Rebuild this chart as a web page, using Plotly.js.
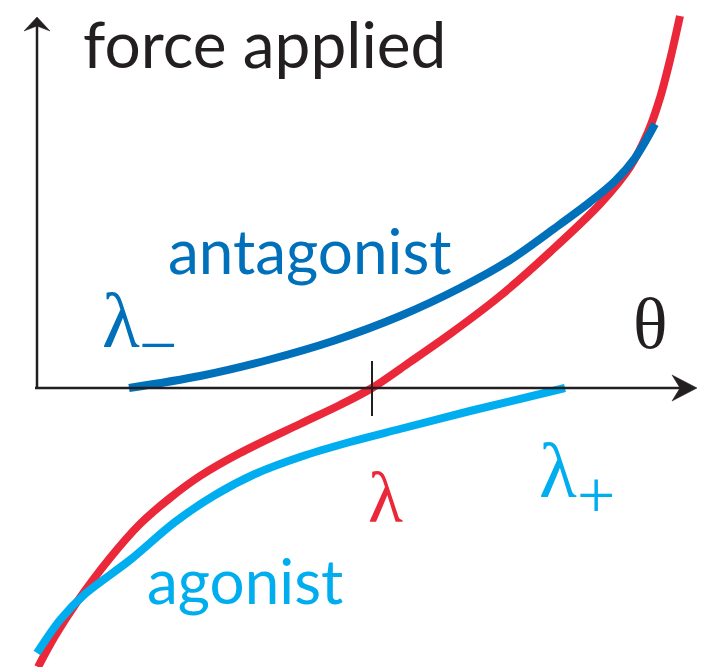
<!DOCTYPE html>
<html>
<head>
<meta charset="utf-8">
<script src="https://cdn.plot.ly/plotly-3.0.1.min.js"></script>
<style>
  html, body { margin: 0; padding: 0; background: #ffffff; }
  #chart { width: 710px; height: 667px; }
</style>
</head>
<body>
<div id="chart"></div>
<script>
// Joint angle (theta) and force for a muscle pair around the rest length lambda.
const lambdaMinus = 0.92;   // antagonist threshold
const lambdaRest = 3.35;    // equilibrium, net force zero
const lambdaPlus = 5.28;    // agonist threshold

// net force applied
const netTheta = [0.01, 0.18, 0.40, 0.73, 1.03, 1.33, 1.63, 2.03, 2.63, 3.03, 3.35, 3.73, 4.13, 4.63, 5.13, 5.63, 5.93, 6.11, 6.23, 6.33, 6.43];
const netForce = [-2.79, -2.48, -2.14, -1.70, -1.36, -1.10, -0.88, -0.65, -0.36, -0.17, 0.00, 0.26, 0.54, 0.92, 1.36, 1.84, 2.21, 2.56, 2.90, 3.28, 3.72];

// antagonist
const antTheta = [0.92, 1.63, 2.31, 2.96, 3.63, 4.23, 4.73, 5.18, 5.53, 5.78, 5.98, 6.18];
const antForce = [0.00, 0.12, 0.28, 0.47, 0.72, 1.00, 1.28, 1.60, 1.86, 2.07, 2.30, 2.64];

// agonist
const agoTheta = [0.00, 0.23, 0.48, 0.93, 1.38, 1.78, 2.18, 2.63, 3.13, 3.63, 4.33, 5.28];
const agoForce = [-2.65, -2.32, -2.06, -1.72, -1.34, -1.07, -0.86, -0.69, -0.54, -0.41, -0.23, 0.00];

// ends of the drawn axes
const thetaAxisEnd = 6.60;
const forceAxisEnd = 3.71;

const RED = '#EA2839';
const DARK_BLUE = '#0070BA';
const LIGHT_BLUE = '#00AEEF';
const INK = '#231F20';

const SANS = 'Lato, "Open Sans", sans-serif';
const SERIF = '"Liberation Serif", "DejaVu Serif", serif';

function curve(x, y, color) {
  return { x: x, y: y, mode: 'lines', hoverinfo: 'skip',
           line: { color: color, width: 8, shape: 'spline', smoothing: 0.9 } };
}

const traces = [
  curve(netTheta, netForce, RED),
  curve(antTheta, antForce, DARK_BLUE),
  curve(agoTheta, agoForce, LIGHT_BLUE)
];

function label(text, x, y, color, size, family, xanchor) {
  return { text: text, x: x, y: y, xref: 'x', yref: 'y', showarrow: false,
           xanchor: xanchor || 'left', yanchor: 'middle',
           font: { color: color, size: size, family: family } };
}

// barbed arrowhead drawn in pixels around the axis end
function arrowHead(xa, ya, path) {
  return { type: 'path', xref: 'x', yref: 'y', xsizemode: 'pixel', ysizemode: 'pixel',
           xanchor: xa, yanchor: ya, path: path,
           fillcolor: INK, line: { color: INK, width: 0.5 } };
}

const layout = {
  width: 710, height: 667,
  margin: { l: 0, r: 0, t: 0, b: 0 },
  paper_bgcolor: '#ffffff', plot_bgcolor: '#ffffff',
  showlegend: false,
  xaxis: { range: [-0.37, 6.73], visible: false, fixedrange: true },
  yaxis: { range: [-2.79, 3.88], visible: false, fixedrange: true },
  shapes: [
    { type: 'line', x0: 0, x1: 0, y0: 0, y1: forceAxisEnd - 0.05, line: { color: INK, width: 2.5 } },
    { type: 'line', x0: -0.02, x1: thetaAxisEnd - 0.1, y0: 0, y1: 0, line: { color: INK, width: 2.5 } },
    { type: 'line', x0: lambdaRest, x1: lambdaRest, y0: 0.27, y1: -0.28, line: { color: INK, width: 2 } },
    arrowHead(0, forceAxisEnd, 'M0,0 L-13,-14 L0,-9 L13,-14 Z'),
    arrowHead(thetaAxisEnd, 0, 'M0,0 L-25,13 L-17,0 L-25,-13 Z')
  ],
  annotations: [
    label('force applied', 0.44, 3.45, INK, 64, SANS),
    label('antagonist', 1.29, 1.38, DARK_BLUE, 62, SANS),
    label('agonist', 1.08, -1.92, LIGHT_BLUE, 62, SANS),
    // lambda minus: symbol and its subscript sign
    label('λ', lambdaMinus - 0.08, 0.68, DARK_BLUE, 78, SERIF, 'center'),
    label('−', lambdaMinus + 0.29, 0.43, DARK_BLUE, 68, SERIF, 'center'),
    label('λ', lambdaRest + 0.13, -1.10, RED, 72, SERIF, 'center'),
    // lambda plus: symbol and its subscript sign
    label('λ', lambdaPlus - 0.07, -0.82, LIGHT_BLUE, 78, SERIF, 'center'),
    label('+', lambdaPlus + 0.31, -1.07, LIGHT_BLUE, 68, SERIF, 'center'),
    label('θ', 6.13, 0.64, INK, 72, SERIF, 'center')
  ]
};

Plotly.newPlot('chart', traces, layout, { staticPlot: true, displayModeBar: false });
</script>
</body>
</html>
